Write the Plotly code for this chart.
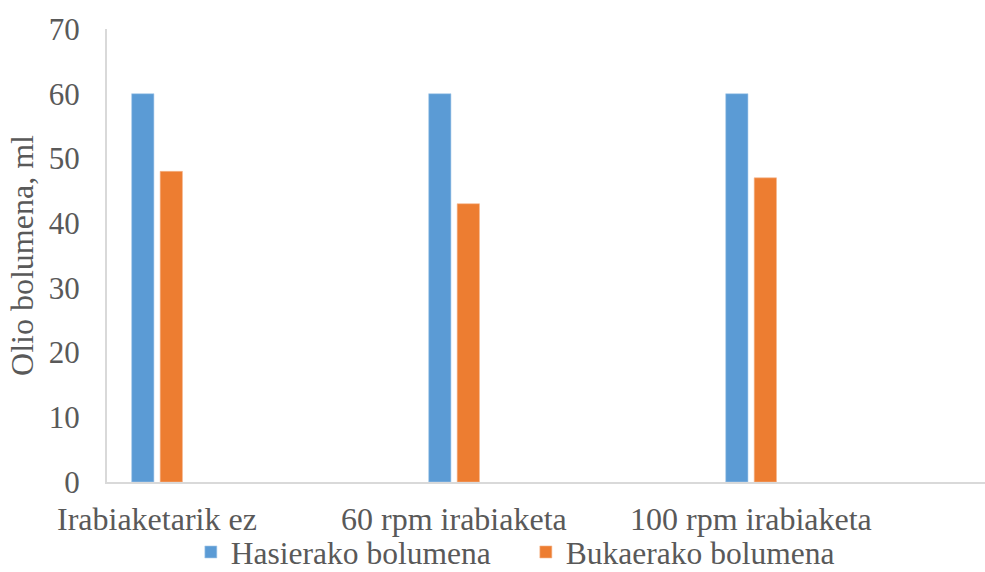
import plotly.graph_objects as go

categories = ["Irabiaketarik ez", "60 rpm irabiaketa", "100 rpm irabiaketa"]
hasierako = [60, 60, 60]
bukaerako = [48, 43, 47]
y_ticks = [0, 10, 20, 30, 40, 50, 60, 70]

FONT = "Liberation Serif, Times New Roman, serif"
TXT = "#595959"

fig = go.Figure()
fig.add_trace(go.Bar(
    x=categories, y=hasierako, name="Hasierako bolumena",
    marker=dict(color="#5B9BD5", line=dict(color="#A9CBEB", width=0.6)),
    width=0.075, offset=-0.085,
))
fig.add_trace(go.Bar(
    x=categories, y=bukaerako, name="Bukaerako bolumena",
    marker=dict(color="#ED7D31", line=dict(color="#F5B78F", width=0.6)),
    width=0.075, offset=0.011,
))

fig.update_layout(
    width=985, height=572,
    margin=dict(l=107, r=0, t=29, b=90, pad=0, autoexpand=False),
    paper_bgcolor="white", plot_bgcolor="white",
    barmode="overlay",
    font=dict(family=FONT, color=TXT, size=32),
    showlegend=True,
    legend=dict(
        orientation="h", x=0.0955, xanchor="left",
        yref="container", y=0.035, yanchor="middle",
        font=dict(family=FONT, size=31.5, color=TXT),
        entrywidth=290, entrywidthmode="pixels",
        bgcolor="rgba(0,0,0,0)", itemwidth=30,
    ),
)
fig.update_xaxes(
    type="category", range=[-0.168, 2.788], automargin=False,
    showline=True, linecolor="#D9D9D9", linewidth=2,
    showgrid=False, zeroline=False, ticks="",
    tickfont=dict(family=FONT, size=32, color=TXT),
    ticklabelstandoff=8,
)
fig.update_yaxes(
    range=[0, 70], tickvals=y_ticks, automargin=False,
    showline=True, linecolor="#D9D9D9", linewidth=2,
    showgrid=False, zeroline=False, ticks="",
    tickfont=dict(family=FONT, size=31, color=TXT),
    ticklabelstandoff=19,
    title=dict(text="Olio bolumena, ml", font=dict(family=FONT, size=32, color=TXT), standoff=6),
)

fig.write_html("out.html")
